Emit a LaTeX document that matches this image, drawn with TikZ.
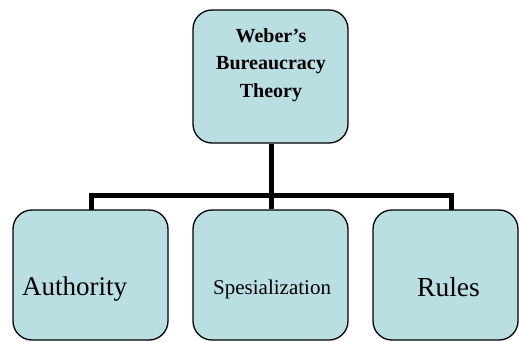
\documentclass[tikz,border=0pt]{standalone}
\usepackage{fontspec}
\setmainfont{Liberation Serif}
\definecolor{boxfill}{RGB}{185,223,227}
\tikzset{
  x=1pt,y=-1pt,
  box/.style={draw=black, line width=1.3pt, fill=boxfill, rounded corners=19pt, inner sep=0pt},
  conn/.style={draw=black, line width=5pt, line join=miter},
  lbl/.style={inner sep=0pt, text=black}
}
\begin{document}
\begin{tikzpicture}
\useasboundingbox (0,0) rectangle (519,341);
\node[box, minimum width=155pt, minimum height=133pt] (top) at (270.5,76.5) {};
\node[box, minimum width=155pt, minimum height=130pt] (auth) at (90.5,275) {};
\node[box, minimum width=155pt, minimum height=130pt] (spec) at (270.5,275) {};
\node[box, minimum width=145pt, minimum height=130pt] (rules) at (445.5,275) {};
\node[lbl, align=center, font=\fontsize{20}{27.5}\selectfont\bfseries] (toptext) at (271,65) {Weber’s\\Bureaucracy\\Theory};
\node[lbl, font=\fontsize{27}{30}\selectfont, anchor=base west] (authtext) at (22,295) {Authority};
\node[lbl, font=\fontsize{21}{24}\selectfont, anchor=base west] (spectext) at (213,294) {Spesialization};
\node[lbl, font=\fontsize{27.5}{30}\selectfont, anchor=base west] (rulestext) at (417,296) {Rules};
\coordinate (bus) at (271,195.5);
\coordinate (busl) at (91,195.5);
\coordinate (busr) at (451,195.5);
\coordinate (authin) at (91,210);
\coordinate (rulesin) at (451,210);
\draw[conn] (top.south -| bus) -- (bus |- spec.north);
\draw[conn] (authin) -- (busl) -- (busr) -- (rulesin);
\end{tikzpicture}
\end{document}
